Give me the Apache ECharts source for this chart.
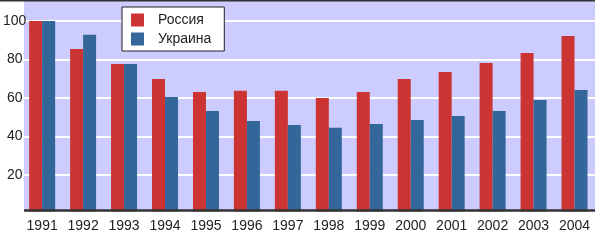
<!DOCTYPE html>
<html><head><meta charset="utf-8">
<script src="https://cdn.jsdelivr.net/npm/echarts@6/dist/echarts.min.js"></script>
<style>html,body{margin:0;padding:0;background:#fff}#c{width:595px;height:241px}</style>
</head><body><div id="c"></div>
<script>
const years = ['1991','1992','1993','1994','1995','1996','1997','1998','1999','2000','2001','2002','2003','2004'];
const russia = [100, 85.5, 77.7, 69.9, 63.1, 63.8, 63.8, 60.0, 63.1, 69.9, 73.5, 78.2, 83.4, 92.2];
const ukraine = [100, 92.9, 77.7, 60.5, 53.2, 48.1, 46.0, 44.6, 46.5, 48.6, 50.6, 53.2, 59.0, 64.2];
const seriesNames = ['Россия', 'Украина'];
const yTicks = [20, 40, 60, 80, 100];

const FONT = '"Liberation Sans", Arial, sans-serif';
const chart = echarts.init(document.getElementById('c'), null, {renderer: 'canvas'});
chart.setOption({
  animation: false,
  backgroundColor: '#ffffff',
  grid: {left: 18.1, top: 0, width: 583.2, height: 213.5, containLabel: false},
  legend: {
    orient: 'vertical', left: 122, top: 7,
    padding: [6, 13, 5, 9],
    itemWidth: 13, itemHeight: 13, itemGap: 5,
    backgroundColor: '#ffffff', borderColor: '#222222', borderWidth: 1,
    icon: 'rect',
    textStyle: {fontFamily: FONT, fontSize: 14, color: '#222222', padding: [0, 0, 0, 9]},
    data: seriesNames
  },
  xAxis: {
    type: 'category', data: years, boundaryGap: true,
    axisLine: {show: false}, axisTick: {show: false},
    axisLabel: {fontFamily: FONT, fontSize: 14, color: '#222222', margin: 6, interval: 0}
  },
  yAxis: {
    type: 'value', min: 0, max: 110.9, interval: 20,
    axisLine: {show: false}, axisTick: {show: false},
    splitLine: {show: true, lineStyle: {color: '#ffffff', width: 2}},
    axisLabel: {
      fontFamily: FONT, fontSize: 14, color: '#222222', align: 'center', margin: 7,
      formatter: function (v) { return yTicks.indexOf(v) >= 0 ? String(v) : ''; }
    }
  },
  series: [
    {name: seriesNames[0], type: 'bar', data: russia, barWidth: 13, barGap: '0%',
     itemStyle: {color: '#cc3333'}},
    {name: seriesNames[1], type: 'bar', data: ukraine, barWidth: 13, barGap: '0%',
     itemStyle: {color: '#336699'}}
  ],
  graphic: [
    {type: 'rect', z: -10, silent: true, shape: {x: 24, y: 0, width: 571, height: 211}, style: {fill: '#ccccff'}},
    {type: 'rect', z: 10, silent: true, shape: {x: 0, y: 211.5, width: 595, height: 4}, style: {fill: '#ffffff'}},
    {type: 'rect', z: 11, silent: true, shape: {x: 24, y: 209.3, width: 571, height: 2.5}, style: {fill: '#333333'}},
    {type: 'rect', z: 11, silent: true, shape: {x: 0, y: 0, width: 595, height: 1.5}, style: {fill: '#333333'}}
  ]
});
</script></body></html>
